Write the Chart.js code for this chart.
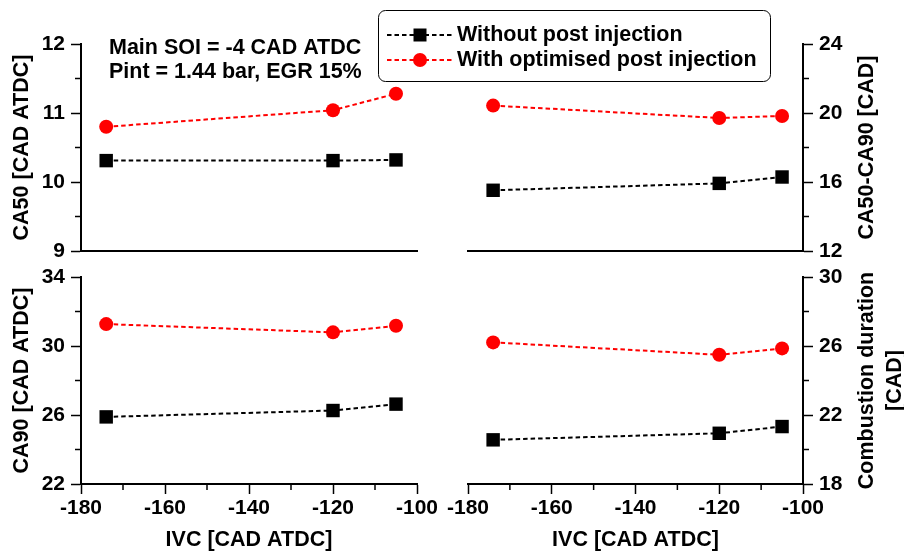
<!DOCTYPE html>
<html>
<head>
<meta charset="utf-8">
<script src="https://cdn.jsdelivr.net/npm/chart.js@4/dist/chart.umd.min.js"></script>
<style>
  html, body { margin: 0; padding: 0; background: #fff; }
  #wrap { position: relative; width: 904px; height: 554px; }
  #wrap canvas { position: absolute; left: 0; top: 0; }
</style>
</head>
<body>
<div id="wrap">
  <canvas id="ca50" width="904" height="554"></canvas>
  <canvas id="ca90" width="904" height="554"></canvas>
  <canvas id="ca5090" width="904" height="554"></canvas>
  <canvas id="duration" width="904" height="554"></canvas>
</div>
<script>
// IVC timing, same three points on every panel
const ivc = [-174, -120, -105]
const series_names = ['Without post injection', 'With optimised post injection']

// CA50 [CAD ATDC]
const ca50_without = [10.31, 10.31, 10.32]
const ca50_with = [10.80, 11.04, 11.28]
// CA50-CA90 [CAD]
const ca5090_without = [15.52, 15.92, 16.29]
const ca5090_with = [20.43, 19.71, 19.83]
// CA90 [CAD ATDC]
const ca90_without = [25.89, 26.26, 26.63]
const ca90_with = [31.27, 30.79, 31.17]
// combustion duration [CAD]
const dur_without = [20.56, 20.94, 21.33]
const dur_with = [26.21, 25.49, 25.86]

// tick labels
const x_ticks = [-180, -160, -140, -120, -100]
const ca50_ticks = [9, 10, 11, 12]
const ca5090_ticks = [12, 16, 20, 24]
const ca90_ticks = [22, 26, 30, 34]
const dur_ticks = [18, 22, 26, 30]

const FONT = "'Liberation Sans', Arial, sans-serif"
const tickFont = { family: FONT, size: 21, weight: 'bold' }
const dash = [4.5, 3]

// short minor ticks (the ones without a label)
const minorTicks = {
  id: 'minorTicks',
  afterDraw(chart) {
    const c = chart.ctx
    const a = chart.chartArea
    c.save()
    c.strokeStyle = '#000'
    c.lineWidth = 1.5
    for (const s of Object.values(chart.scales)) {
      if (!s.options.grid.display) continue
      for (const t of s.ticks) {
        if (t.label !== '') continue
        const p = s.getPixelForValue(t.value)
        c.beginPath()
        if (s.axis === 'x') {
          c.moveTo(p, a.bottom); c.lineTo(p, a.bottom + 6)
        } else if (s.position === 'left') {
          c.moveTo(a.left - 6, p); c.lineTo(a.left, p)
        } else {
          c.moveTo(a.right, p); c.lineTo(a.right + 6, p)
        }
        c.stroke()
      }
    }
    c.restore()
  }
}

// axis titles, annotation and legend
const texts = {
  id: 'texts',
  afterDraw(chart, args, opts) {
    const c = chart.ctx
    const a = chart.chartArea
    c.save()
    c.fillStyle = '#000'
    c.font = 'bold 21.5px ' + FONT
    c.textBaseline = 'middle'
    c.textAlign = 'center'
    if (opts.xTitle) c.fillText(opts.xTitle, (a.left + a.right) / 2, a.bottom + 56)
    if (opts.yTitle) {
      const x0 = opts.side === 'left' ? a.left - 59 : a.right + 64
      opts.yTitle.forEach((line, i) => {
        c.save()
        c.translate(x0 + i * 28, (a.top + a.bottom) / 2)
        c.rotate(-Math.PI / 2)
        c.fillText(line, 0, 0)
        c.restore()
      })
    }
    if (opts.note) {
      c.textAlign = 'left'
      opts.note.forEach((line, i) => c.fillText(line, 109, 48 + i * 24))
    }
    if (opts.legend) {
      c.lineWidth = 1
      c.strokeStyle = '#000'
      c.fillStyle = '#fff'
      c.beginPath()
      c.roundRect(378.5, 10.5, 392, 71, 7)
      c.fill()
      c.stroke()
      chart.data.datasets.forEach((ds, i) => {
        const y = 35 + i * 25
        c.strokeStyle = ds.borderColor
        c.lineWidth = 2
        c.setLineDash(dash)
        c.beginPath(); c.moveTo(387, y); c.lineTo(453, y); c.stroke()
        c.setLineDash([])
        c.fillStyle = ds.backgroundColor
        c.beginPath()
        if (ds.pointStyle === 'rect') c.rect(413.5, y - 6.5, 13, 13)
        else c.arc(420, y, 7, 0, Math.PI * 2)
        c.fill()
        c.fillStyle = '#000'
        c.textAlign = 'left'
        c.fillText(ds.label, 457, y)
      })
    }
    c.restore()
  }
}

function makePanel(id, p) {
  const t = p.ticks
  const axisBorder = { display: true, color: '#000', width: 2 }
  const tickColor = ctx => ctx.tick && ctx.tick.label !== '' ? '#000' : 'rgba(0,0,0,0)'
  return new Chart(document.getElementById(id), {
    type: 'line',
    data: {
      datasets: [
        {
          label: series_names[0],
          data: ivc.map((x, i) => ({ x: x, y: p.without[i] })),
          borderColor: '#000', backgroundColor: '#000',
          borderWidth: 2, borderDash: dash,
          pointStyle: 'rect', pointRadius: 9.5, pointBorderWidth: 0
        },
        {
          label: series_names[1],
          data: ivc.map((x, i) => ({ x: x, y: p.with[i] })),
          borderColor: '#ff0000', backgroundColor: '#ff0000',
          borderWidth: 2, borderDash: dash,
          pointStyle: 'circle', pointRadius: 7, pointBorderWidth: 0
        }
      ]
    },
    options: {
      responsive: false,
      animation: false,
      events: [],
      devicePixelRatio: 1,
      layout: { padding: p.pad },
      scales: {
        x: {
          type: 'linear', min: -180, max: -100,
          // labels are clipped to the scale box, so the bottom axes get a real height
          afterFit: s => { s.height = p.bottom ? 70 : 0 },
          border: axisBorder,
          grid: { display: p.bottom, drawOnChartArea: false, tickLength: 10, tickWidth: 1.5, tickColor: tickColor },
          ticks: {
            display: p.bottom, stepSize: 10, autoSkip: false, maxRotation: 0,
            padding: 2, color: '#000', font: tickFont,
            callback: v => x_ticks.includes(v) ? String(v) : ''
          }
        },
        y: {
          type: 'linear', position: p.side,
          min: t[0], max: t[t.length - 1],
          afterFit: s => { s.width = p.side === 'left' ? 81 : 101 },
          border: axisBorder,
          grid: { drawOnChartArea: false, tickLength: 10, tickWidth: 1.5, tickColor: tickColor },
          ticks: {
            stepSize: (t[1] - t[0]) / 2, autoSkip: false,
            padding: 6, color: '#000', font: tickFont,
            callback: v => t.includes(v) ? String(v) : ''
          }
        }
      },
      plugins: {
        legend: { display: false },
        tooltip: { enabled: false },
        texts: {
          side: p.side, yTitle: p.yTitle, xTitle: p.bottom ? 'IVC [CAD ATDC]' : null,
          note: p.note, legend: p.legend
        }
      }
    },
    plugins: [minorTicks, texts]
  })
}

makePanel('ca50', {
  without: ca50_without, with: ca50_with, ticks: ca50_ticks,
  side: 'left', bottom: false,
  pad: { left: 0, right: 487, top: 44, bottom: 303 },
  yTitle: ['CA50 [CAD ATDC]'],
  note: ['Main SOI = -4 CAD ATDC', 'Pint = 1.44 bar, EGR 15%']
})
makePanel('ca90', {
  without: ca90_without, with: ca90_with, ticks: ca90_ticks,
  side: 'left', bottom: true,
  pad: { left: 0, right: 487, top: 277, bottom: 0 },
  yTitle: ['CA90 [CAD ATDC]']
})
makePanel('ca5090', {
  without: ca5090_without, with: ca5090_with, ticks: ca5090_ticks,
  side: 'right', bottom: false,
  pad: { left: 468, right: 0, top: 44, bottom: 303 },
  yTitle: ['CA50-CA90 [CAD]'],
  legend: true
})
makePanel('duration', {
  without: dur_without, with: dur_with, ticks: dur_ticks,
  side: 'right', bottom: true,
  pad: { left: 468, right: 0, top: 277, bottom: 0 },
  yTitle: ['Combustion duration', '[CAD]']
})
</script>
</body>
</html>
